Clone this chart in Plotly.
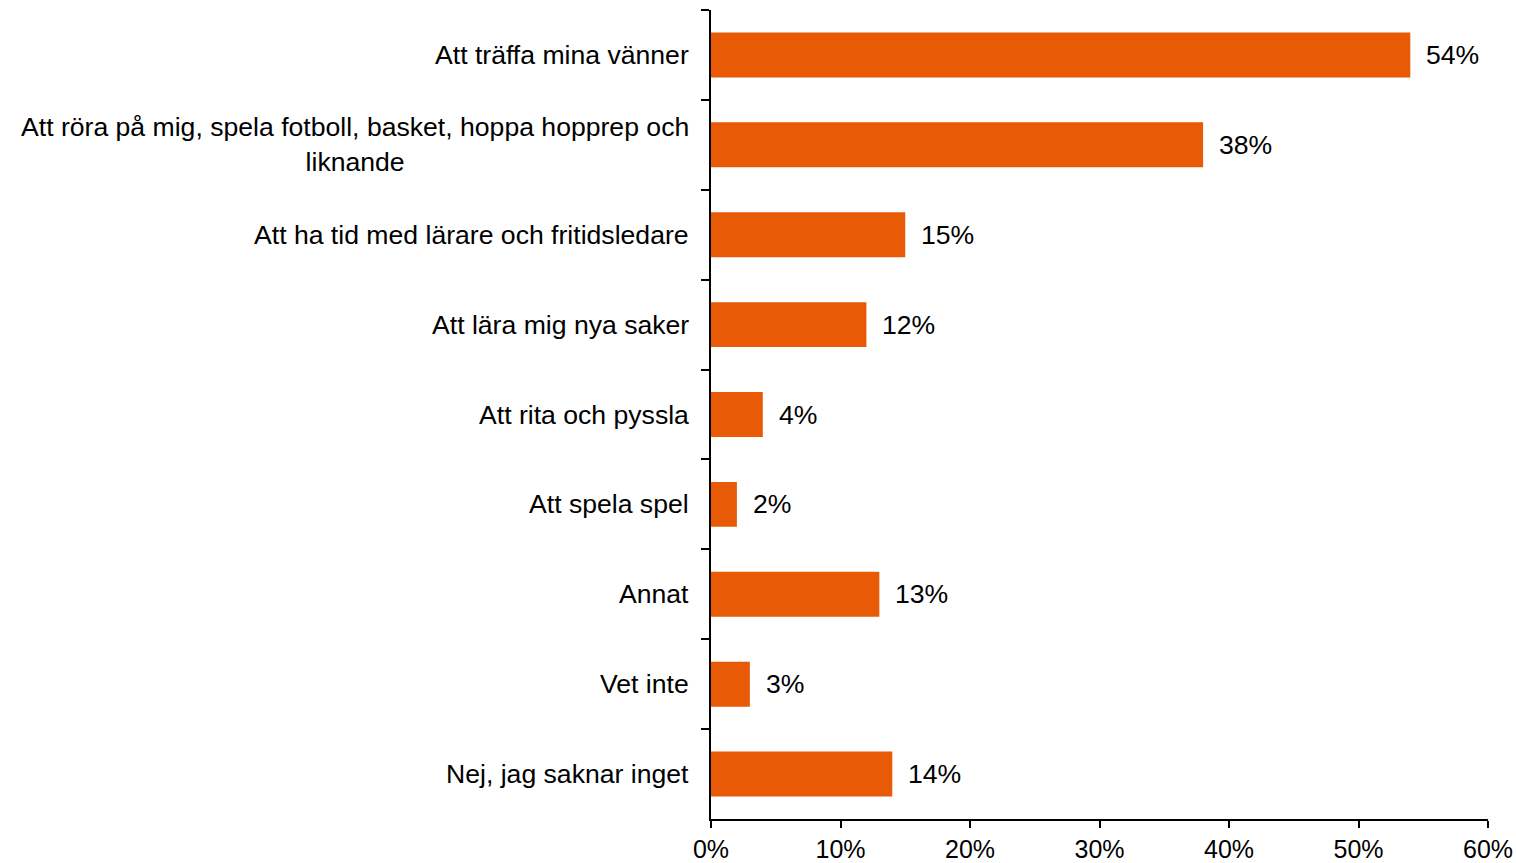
import plotly.graph_objects as go

categories = [
    "Att träffa mina vänner",
    "Att röra på mig, spela fotboll, basket, hoppa hopprep och<br>liknande",
    "Att ha tid med lärare och fritidsledare",
    "Att lära mig nya saker",
    "Att rita och pyssla",
    "Att spela spel",
    "Annat",
    "Vet inte",
    "Nej, jag saknar inget",
]
values = [54, 38, 15, 12, 4, 2, 13, 3, 14]
x_ticks = [0, 10, 20, 30, 40, 50, 60]
x_tick_labels = ["0%", "10%", "20%", "30%", "40%", "50%", "60%"]

BAR_COLOR = "#E85A05"
FONT = "Liberation Sans, Arial, sans-serif"
FS = 26.6

fig = go.Figure()
fig.add_trace(go.Bar(
    y=categories, x=values,
    orientation="h",
    marker=dict(color=BAR_COLOR, line=dict(width=0)),
    hoverinfo="skip",
))

# value labels to the right of each bar
for c, v in zip(categories, values):
    fig.add_annotation(
        x=v, y=c, text=f"{v}%", showarrow=False,
        xanchor="left", xshift=14,
        font=dict(family=FONT, size=FS, color="#000"),
    )
    # category labels, centred when wrapped
    fig.add_annotation(
        x=0, xref="paper", y=c, text=c, showarrow=False,
        xanchor="right", xshift=-20, align="center",
        font=dict(family=FONT, size=FS, color="#000"),
    )

fig.update_layout(
    width=1516, height=863,
    margin=dict(l=711, r=28, t=10, b=44),
    plot_bgcolor="white", paper_bgcolor="white",
    bargap=0.5,
    showlegend=False,
    font=dict(family=FONT, size=FS, color="#000"),
)
fig.update_xaxes(
    range=[0, 60], tickvals=x_ticks, ticktext=x_tick_labels,
    automargin=False,
    showgrid=False, zeroline=False,
    showline=True, linecolor="#000", linewidth=1.5,
    ticks="outside", ticklen=7, tickwidth=1.5, tickcolor="#000",
    tickfont=dict(family=FONT, size=25, color="#000"),
)
fig.update_yaxes(
    autorange="reversed", type="category", automargin=False,
    showticklabels=False, showgrid=False, zeroline=False,
    showline=True, linecolor="#000", linewidth=1.5,
    ticks="outside", tickson="boundaries", ticklen=8, tickwidth=1.5, tickcolor="#000",
)

# drop the default 8px body margin so the figure fills the window exactly
fig.write_html(
    "out.html",
    config={"displayModeBar": False},
    post_script="document.body.style.margin='0';document.body.style.overflow='hidden';",
)
